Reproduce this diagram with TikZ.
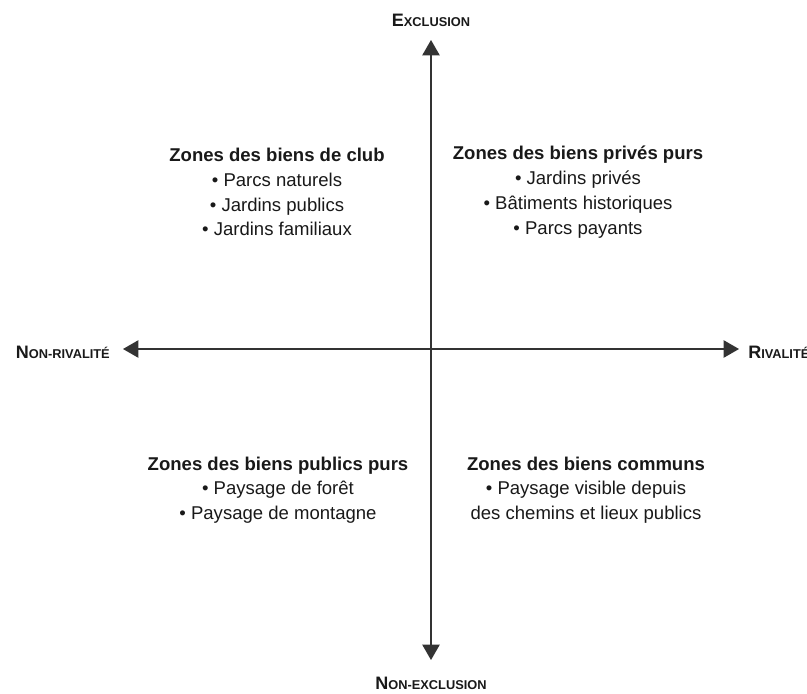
\documentclass[tikz,border=0pt]{standalone}
\usepackage{fontspec}
\setmainfont{Liberation Sans}
\usetikzlibrary{arrows.meta}
\newcommand{\fakesc}[2]{{\fontsize{13.5}{14}\selectfont\bfseries #1}{\fontsize{9.6}{10}\selectfont\bfseries #2}}
\tikzset{
  axisline/.style={line width=0.9pt, draw=black!80, {Triangle[length=11.5pt,width=13pt]}-{Triangle[length=11.5pt,width=13pt]}},
  axislabel/.style={inner sep=0pt, text=black!90},
  zone/.style={align=center, inner sep=0pt, text=black!90, font=\fontsize{13.9}{18.6}\selectfont},
}
\begin{document}
\begin{tikzpicture}[x=0.75pt,y=-0.75pt]
\useasboundingbox[fill=white] (0,0) rectangle (807,693);
\coordinate (top) at (431,40);
\coordinate (bottom) at (431,660);
\coordinate (left) at (123,349);
\coordinate (right) at (739,349);
\draw[axisline] (bottom) -- (top);
\draw[axisline] (left) -- (right);
\node[axislabel] (excl) at (431,20) {\fakesc{E}{XCLUSION}};
\node[axislabel] (nonexcl) at (431,683) {\fakesc{N}{ON-EXCLUSION}};
\node[axislabel, anchor=east] (nonriv) at (110,352) {\fakesc{N}{ON-RIVALITÉ}};
\node[axislabel, anchor=west] (riv) at (748,352) {\fakesc{R}{IVALITÉ}};
\node[zone] (club) at (277,192) {\textbf{Zones des biens de club}\\• Parcs naturels\\• Jardins publics\\• Jardins familiaux};
\node[zone] (prive) at (578,192) {\textbf{Zones des biens privés purs}\\• Jardins privés\\• Bâtiments historiques\\• Parcs payants};
\node[zone] (public) at (278,490) {\textbf{Zones des biens publics purs}\\• Paysage de forêt\\• Paysage de montagne};
\node[zone] (commun) at (586,490) {\textbf{Zones des biens communs}\\• Paysage visible depuis\\des chemins et lieux publics};
\end{tikzpicture}
\end{document}
